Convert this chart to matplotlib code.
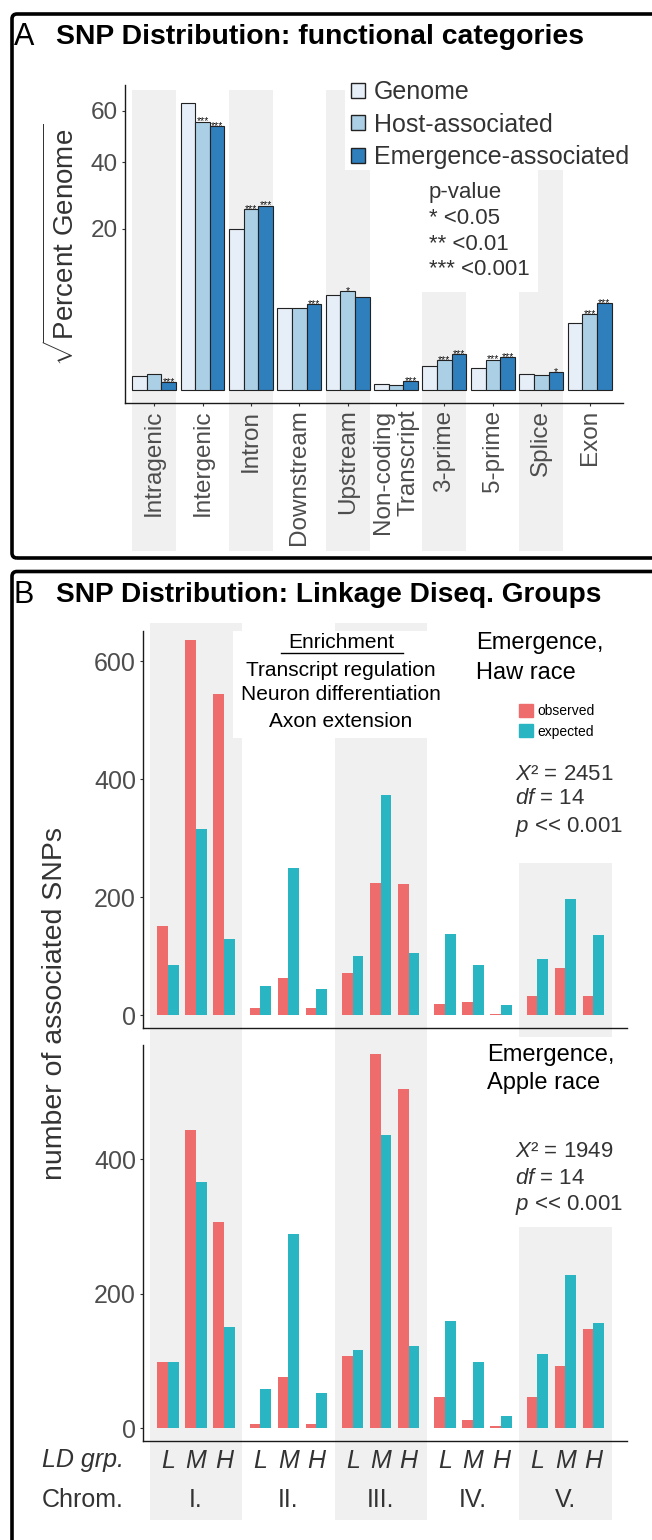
import numpy as np
import matplotlib
matplotlib.use("Agg")
import matplotlib.pyplot as plt
from matplotlib.patches import Rectangle, FancyBboxPatch, Patch
from matplotlib.lines import Line2D
from matplotlib.transforms import blended_transform_factory

plt.rcParams['font.family'] = ['Liberation Sans', 'DejaVu Sans']
plt.rcParams['mathtext.fontset'] = 'custom'
plt.rcParams['mathtext.rm'] = 'Liberation Sans'
plt.rcParams['mathtext.it'] = 'Liberation Sans:italic'

# ---- panel A data (percent of genome, plotted on a sqrt axis)
categories = ['Intragenic', 'Intergenic', 'Intron', 'Downstream', 'Upstream',
              'Non-coding\nTranscript', '3-prime', '5-prime', 'Splice', 'Exon']
genome = [0.15, 63.4, 20.0, 5.23, 6.92, 0.025, 0.46, 0.36, 0.19, 3.43]
host = [0.21, 55.5, 25.2, 5.23, 7.51, 0.017, 0.68, 0.71, 0.17, 4.42]
emergence = [0.05, 53.8, 26.2, 5.66, 6.72, 0.058, 0.98, 0.84, 0.24, 5.80]
host_sig = ['', '***', '***', '', '*', '', '***', '***', '', '***']
emer_sig = ['***', '***', '***', '***', '', '***', '***', '***', '*', '***']

# ---- panel B data (number of SNPs per LD group)
chroms = ['I.', 'II.', 'III.', 'IV.', 'V.']
ld_groups = ['L', 'M', 'H']
haw_observed = [151, 636, 545, 13, 64, 13, 72, 224, 222, 20, 23, 3, 32, 80, 32]
haw_expected = [86, 315, 129, 50, 249, 45, 101, 374, 106, 138, 86, 18, 96, 197, 136]
apple_observed = [99, 443, 307, 7, 77, 7, 108, 557, 505, 46, 13, 3, 46, 92, 147]
apple_expected = [98, 366, 150, 58, 289, 52, 117, 436, 122, 160, 98, 19, 110, 228, 157]

W, H = 652, 1540


def fx(x):
    return x / W


def fy(y):
    return 1 - y / H


def box(x0, y0, x1, y1):
    return [fx(x0), fy(y1), (x1 - x0) / W, (y1 - y0) / H]


BAND = '#eff0ef'
GREY = '#4d4d4d'
DARK = '#333333'

fig = plt.figure(figsize=(W / 100, H / 100), dpi=100)


def white_box(x0, y0, x1, y1):
    fig.add_artist(Rectangle((fx(x0), fy(y1)), fx(x1) - fx(x0), fy(y0) - fy(y1),
                             transform=fig.transFigure, color='white', lw=0, zorder=-1))


def style_axes(ax):
    ax.set_facecolor('none')
    for s in ['top', 'right']:
        ax.spines[s].set_visible(False)
    for s in ['left', 'bottom']:
        ax.spines[s].set_color('#1a1a1a')
        ax.spines[s].set_linewidth(1.0)


# ================= panel A =================
ax_a = fig.add_axes(box(124.6, 85, 623, 403))
style_axes(ax_a)
ax_a.set_yscale('function', functions=(lambda v: np.sign(v) * np.sqrt(np.abs(v)),
                                        lambda v: np.sign(v) * v ** 2))
ax_a.set_ylim(-0.13, 71.7)
ax_a.set_xlim(0.39, 10.69)

x = np.arange(1, len(categories) + 1)
w = 0.303
colors_a = ['#e6eef8', '#abd0e6', '#2f7fbd']
series = [genome, host, emergence]
for k, vals in enumerate(series):
    ax_a.bar(x + (k - 1) * w, vals, width=w, color=colors_a[k],
             edgecolor='#222222', linewidth=0.8, zorder=2)
for i in range(len(categories)):
    for k, sig in [(1, host_sig[i]), (2, emer_sig[i])]:
        if sig:
            ax_a.annotate(sig, (x[i] + (k - 1) * w, series[k][i]), xytext=(0, -2),
                          textcoords='offset points', ha='center', va='baseline',
                          fontsize=7.5, color='#111111', zorder=3)

ax_a.set_yticks([20, 40, 60])
ax_a.set_xticks(x)
ax_a.set_xticklabels(categories, rotation=90, va='top', ha='center',
                     multialignment='right')
ax_a.tick_params(axis='both', length=2.2, width=0.8, color=DARK,
                 labelsize=17.5, labelcolor=GREY, pad=2.5)

tr_a = blended_transform_factory(ax_a.transData, fig.transFigure)
for i in [1, 3, 5, 7, 9]:
    fig.add_artist(Rectangle((i - 0.455, fy(550.7)), 0.91, fy(90) - fy(550.7),
                             transform=tr_a, color=BAND, lw=0, zorder=-2))
white_box(345, 76, 650, 170)
white_box(370, 170, 538, 292)

leg_a = ax_a.legend([Patch(facecolor=c, edgecolor='#222222', lw=1) for c in colors_a],
                    ['Genome', 'Host-associated', 'Emergence-associated'],
                    loc='upper left', bbox_to_anchor=(fx(351), fy(80)),
                    bbox_transform=fig.transFigure, frameon=False, fontsize=18,
                    handlelength=0.55, handleheight=0.55, handletextpad=0.35,
                    labelspacing=0.34, borderpad=0, borderaxespad=0)
for t in leg_a.get_texts():
    t.set_color(DARK)

fig.text(fx(429), fy(182), 'p-value\n* <0.05\n** <0.01\n*** <0.001', fontsize=16,
         color=DARK, va='top', ha='left', linespacing=1.3)
fig.text(fx(62), fy(245), r'$\sqrt{\mathrm{Percent\ Genome}}$', rotation=90,
         fontsize=20, ha='center', va='center', color=DARK)

fig.text(fx(14), fy(37), 'A', fontsize=22, va='center', ha='left')
fig.text(fx(56), fy(37), 'SNP Distribution: functional categories', fontsize=20.4,
         fontweight='bold', va='center', ha='left')

# ================= panel B =================
pos = np.array([i * 3.3 + j for i in range(len(chroms)) for j in range(len(ld_groups))])
bw = 0.38
red, teal = '#ee6d6c', '#2ab5c2'

ax_h = fig.add_axes(box(142.5, 631, 627, 1028))
ax_p = fig.add_axes(box(142.5, 1045, 627, 1441))
for ax, obs, exp, top in [(ax_h, haw_observed, haw_expected, 651),
                          (ax_p, apple_observed, apple_expected, 570)]:
    style_axes(ax)
    ax.bar(pos - bw / 2, obs, bw, color=red, zorder=2)
    ax.bar(pos + bw / 2, exp, bw, color=teal, zorder=2)
    ax.set_xlim(-0.91, 16.4)
    ax.set_ylim(-0.033 * top, top)
    ax.tick_params(axis='y', length=2.2, width=0.8, color=DARK, labelsize=18,
                   labelcolor=GREY, pad=2.5)
ax_h.set_yticks([0, 200, 400, 600])
ax_p.set_yticks([0, 200, 400])
ax_h.set_xticks([])
ax_p.set_xticks(pos)
ax_p.set_xticklabels(ld_groups * len(chroms), fontstyle='italic')
ax_p.tick_params(axis='x', length=0, labelsize=18, labelcolor=DARK, pad=5.5)

tr_b = blended_transform_factory(ax_p.transData, fig.transFigure)
for i in [0, 2, 4]:
    c = i * 3.3 + 1
    fig.add_artist(Rectangle((c - 1.65, fy(1520)), 3.3, fy(622.7) - fy(1520),
                             transform=tr_b, color=BAND, lw=0, zorder=-2))
for i, name in enumerate(chroms):
    ax_p.text(i * 3.3 + 1, fy(1500), name, transform=tr_b, ha='center',
              va='center', fontsize=18, color=DARK)
white_box(233, 630.7, 432, 738.3)
white_box(470, 615, 650, 862.7)
white_box(450, 1036.7, 650, 1226.7)

fig.text(fx(41.6), fy(1460), 'LD grp.', fontstyle='italic', fontsize=18,
         color=DARK, va='center')
fig.text(fx(41.6), fy(1500), 'Chrom.', fontsize=18, color=DARK, va='center')
fig.text(fx(55), fy(1004), 'number of associated SNPs', rotation=90, fontsize=20.5,
         color=DARK, ha='center', va='center')

for txt, yy in zip(['Enrichment', 'Transcript regulation', 'Neuron differentiation',
                    'Axon extension'], [642.7, 670, 695, 721.7]):
    fig.text(fx(341), fy(yy), txt, fontsize=15, ha='center', va='center')
fig.add_artist(Line2D([fx(280.7), fx(403)], [fy(652.5), fy(652.5)], lw=1,
                      color='black', transform=fig.transFigure))

fig.text(fx(476), fy(643), 'Emergence,', fontsize=17, va='center')
fig.text(fx(476), fy(673), 'Haw race', fontsize=17, va='center')
fig.text(fx(487), fy(1055), 'Emergence,', fontsize=17, va='center')
fig.text(fx(487), fy(1083), 'Apple race', fontsize=17, va='center')
for lines, ys in [((r'$X$² = 2451', r'$df$ = 14', r'$p$ << 0.001'),
                   (775, 799, 826.7)),
                  ((r'$X$² = 1949', r'$df$ = 14', r'$p$ << 0.001'),
                   (1151.7, 1178, 1205))]:
    for txt, yy in zip(lines, ys):
        fig.text(fx(515), fy(yy), txt, fontsize=16, color=DARK, va='center')

leg_b = ax_h.legend([Patch(color=red), Patch(color=teal)], ['observed', 'expected'],
                    loc='upper left', bbox_to_anchor=(fx(519), fy(704)),
                    bbox_transform=fig.transFigure, frameon=False, fontsize=10,
                    handlelength=1.0, handleheight=1.05, handletextpad=0.3,
                    labelspacing=0.45, borderpad=0, borderaxespad=0)

fig.text(fx(14), fy(595), 'B', fontsize=22, va='center', ha='left')
fig.text(fx(56), fy(595), 'SNP Distribution: Linkage Diseq. Groups', fontsize=20.2,
         fontweight='bold', va='center', ha='left')

# panel frames
for y0, y1 in [(14, 558), (571.5, 1640)]:
    fig.add_artist(FancyBboxPatch((0.12, (H - y1) / 100), 7.5, (y1 - y0) / 100,
                                  boxstyle='round,pad=0,rounding_size=0.05',
                                  transform=fig.dpi_scale_trans, fill=False,
                                  edgecolor='black', lw=2.6, zorder=5))

fig.savefig('out.png', dpi=100)
